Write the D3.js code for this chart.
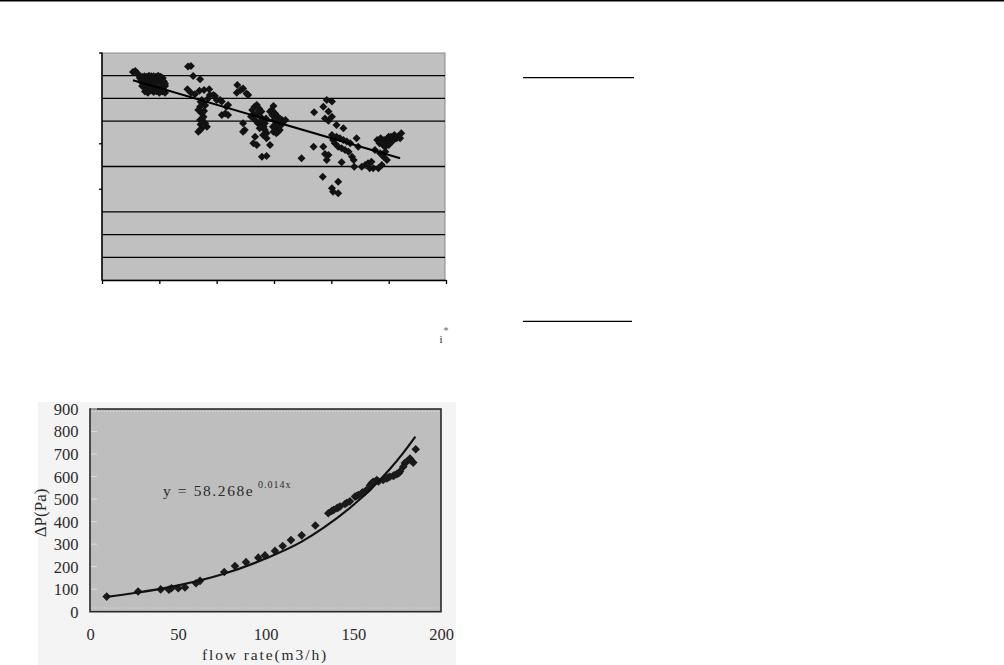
<!DOCTYPE html>
<html>
<head>
<meta charset="utf-8">
<script src="https://cdn.jsdelivr.net/npm/d3@7"></script>
<style>
html,body{margin:0;padding:0;background:#fff;}
svg{display:block;}
text{font-family:"Liberation Serif","DejaVu Serif",serif;}
</style>
</head>
<body>
<svg id="c" width="1004" height="665"></svg>
<script>
// ---------- top chart data (unlabelled axes) ----------
const topXDomain = [0, 6];
const topYDomain = [0, 10];
const topXTicks = [0, 1, 2, 3, 4, 5, 6];
const topGridY = [1, 2, 3, 5, 7, 8, 9];
const topLeftTicks = [4, 6, 10];
const topPoints = [
  [0.54,9.16],[0.58,9.21],[0.61,9.12],[0.64,9.03],[0.66,8.90],[0.70,8.95],[0.74,8.98],[0.78,8.95],[0.82,9.00],[0.86,8.98],
  [0.90,8.98],[0.94,8.95],[0.98,9.00],[1.02,8.95],[1.06,8.90],[0.68,8.75],[0.72,8.80],[0.76,8.70],[0.80,8.78],[0.84,8.72],
  [0.88,8.80],[0.92,8.68],[0.96,8.75],[1.00,8.80],[1.04,8.70],[1.08,8.75],[0.70,8.55],[0.74,8.48],[0.78,8.55],[0.82,8.45],
  [0.86,8.52],[0.90,8.48],[0.94,8.55],[0.98,8.45],[1.02,8.52],[1.06,8.45],[1.10,8.55],[0.75,8.30],[0.80,8.25],[0.85,8.35],
  [0.90,8.28],[0.95,8.32],[1.00,8.25],[1.05,8.30],[1.10,8.25],[0.72,8.65],[1.10,8.65],
  [1.50,9.40],[1.55,9.43],[1.59,8.99],[1.71,8.84],[1.49,8.40],[1.55,8.25],[1.62,8.18],[1.70,8.34],[1.78,8.37],[1.87,8.40],
  [1.94,8.15],[2.00,7.93],[1.74,7.93],[1.71,7.63],[1.74,7.34],[1.77,7.19],[1.68,7.49],[1.71,7.05],[1.80,6.90],[1.83,6.75],
  [1.74,6.68],[1.68,6.53],[1.71,6.61],[1.85,8.00],[1.88,8.15],[2.06,7.93],[2.09,7.86],[2.20,7.71],[2.17,7.63],[2.09,7.27],
  [2.20,7.27],[2.15,7.34],[1.97,8.11],[1.76,7.80],[1.80,7.70],[1.72,7.85],[1.78,7.45],[1.75,7.10],[1.72,6.85],
  [2.36,8.59],[2.46,8.44],[2.55,8.15],[2.35,8.25],[2.52,8.22],[2.42,8.37],[2.46,6.90],[2.49,6.61],[2.46,6.53],[2.64,6.02],
  [2.70,5.95],[2.67,6.31],[2.79,5.43],[2.87,5.46],[2.87,6.24],[2.93,5.95],[2.81,6.39],[2.84,6.61],[2.87,6.46],
  [2.62,7.49],[2.66,7.63],[2.70,7.71],[2.74,7.56],[2.78,7.42],[2.64,7.27],[2.70,7.34],[2.76,7.20],[2.80,7.05],[2.67,7.05],
  [2.72,6.90],[2.78,6.82],[2.84,6.90],[2.86,7.12],[2.60,7.20],[2.75,6.68],[2.82,6.75],[2.96,7.49],[2.99,7.66],[2.93,7.42],
  [2.97,7.27],[3.02,7.34],[3.06,7.20],[3.10,7.12],[3.14,7.05],[3.00,7.05],[3.04,6.97],[3.08,6.90],[3.12,6.82],[3.16,6.97],
  [3.20,7.05],[3.02,6.82],[3.06,6.68],[2.98,6.75],[3.10,6.61],[3.04,6.46],[2.99,6.53],[3.07,6.53],
  [3.48,5.36],[3.69,5.87],[3.70,7.39],[3.85,4.55],[3.86,5.87],[3.89,5.55],[3.92,5.29],[3.95,5.51],[4.01,4.04],[4.03,3.89],
  [4.12,4.33],[4.12,3.82],[3.92,7.93],[4.01,7.86],[3.86,7.63],[3.95,7.42],[4.01,7.19],[3.89,7.12],[3.95,7.02],[4.09,6.83],
  [4.21,6.68],[4.01,6.39],[4.03,6.17],[4.09,6.31],[4.15,6.24],[4.21,6.17],[4.27,6.10],[4.33,6.02],[4.06,6.02],[4.12,5.87],
  [4.18,5.80],[4.24,5.73],[4.30,5.65],[4.44,6.24],[4.47,5.87],[4.36,5.43],[4.39,5.29],[4.18,5.19],[4.40,4.99],
  [4.53,4.99],[4.59,5.07],[4.64,5.14],[4.70,5.21],[4.67,4.92],[4.73,4.92],[4.82,4.92],[4.88,5.07],
  [4.76,5.73],[4.85,5.58],[4.91,5.43],[4.97,5.29],[4.94,5.65],
  [4.80,6.17],[4.86,6.24],[4.92,6.17],[4.98,6.24],[5.04,6.31],[5.10,6.39],[5.16,6.31],[5.22,6.46],[4.84,6.02],[4.90,5.95],
  [4.96,6.02],[5.02,6.10],[5.08,6.17],[5.14,6.24],[4.94,5.87],[5.00,5.95],[5.06,6.10],[4.88,6.10],[5.00,6.31],[5.20,6.24]
];
const topTrend = [[0.54, 8.80], [5.20, 5.36]];

// ---------- bottom chart data ----------
const botXDomain = [0, 200];
const botYDomain = [0, 900];
const botXTicks = [0, 50, 100, 150, 200];
const botYTicks = [0, 100, 200, 300, 400, 500, 600, 700, 800, 900];
const botPoints = [
  [9.1,67],[27,90],[39.9,99],[44.6,98],[46,104],[49.9,104],[53.7,108],[60,126],[62.3,137],[76.1,176],
  [82.2,203],[88.5,220],[95.5,240],[99.3,250],[105,270],[109.4,292],[114.1,318],[120.2,339],[128,383],
  [135.4,437],[137.3,447],[138.5,452],[140.2,459],[141,462],[142.1,467],[144.9,478],[146,484],[147.7,490],
  [150.6,511],[151.5,514],[152.5,518],[154.4,526],[155,530],[156.3,533],[157,538],[158.2,545],[159.1,560],
  [160,570],[161,577],[163,585],[164,578],[166.7,585],[168.7,592],[169.5,596],[170.5,599],[172.4,603],
  [173,606],[174.4,611],[175.5,615],[176.2,622],[178.1,644],[179,660],[180,666],[181.9,680],[182.5,672],
  [183.8,662],[185.2,721]
];
const botTrend = [[9,66],[25,83],[50,117],[75,166],[100,237],[120,310],[133,374],[150,476],[160,547],[170,629],[178,704],[185,777]];
const botXLabel = "flow rate(m3/h)";
const botYLabel = "\u0394P(Pa)";
const eqMain = "y = 58.268e";
const eqSup = "0.014x";

const svg = d3.select("#c");
const diamond = r => `M0,${-r}L${r},0L0,${r}L${-r},0Z`;

// page rules
svg.append("line").attr("x1",0).attr("x2",1004).attr("y1",0.8).attr("y2",0.8).attr("stroke","#000").attr("stroke-width",1.6);
svg.append("line").attr("x1",523).attr("x2",634).attr("y1",77.7).attr("y2",77.7).attr("stroke","#000").attr("stroke-width",1.3);
svg.append("line").attr("x1",523).attr("x2",632).attr("y1",321.3).attr("y2",321.3).attr("stroke","#000").attr("stroke-width",1.3);
svg.append("text").attr("x",439.5).attr("y",343).attr("font-size",11).attr("fill","#222").text("i");
svg.append("text").attr("x",443.5).attr("y",334).attr("font-size",10).attr("fill","#666").text("*");

// ---------- top chart ----------
const tx = d3.scaleLinear().domain(topXDomain).range([102, 446]);
const ty = d3.scaleLinear().domain(topYDomain).range([280, 53]);
const tg = svg.append("g");
tg.append("rect").attr("x",102).attr("y",53).attr("width",343).attr("height",227)
  .attr("fill","#c0c0c0").attr("stroke","#8a8a8a").attr("stroke-width",1);
tg.selectAll("line.grid").data(topGridY).join("line").attr("class","grid")
  .attr("x1",102).attr("x2",445).attr("y1",d=>ty(d)).attr("y2",d=>ty(d))
  .attr("stroke","#000").attr("stroke-width",1.3);
tg.append("line").attr("x1",102).attr("x2",102).attr("y1",52.5).attr("y2",280.5).attr("stroke","#000").attr("stroke-width",1.5);
const txAxis = tg.append("g").attr("transform","translate(0,280)")
  .call(d3.axisBottom(tx).tickValues(topXTicks).tickFormat("").tickSize(4).tickSizeOuter(0));
txAxis.select(".domain").attr("stroke","#000").attr("stroke-width",1.5);
txAxis.selectAll(".tick line").attr("stroke","#000").attr("stroke-width",1.3);
tg.selectAll("line.lt").data(topLeftTicks).join("line").attr("class","lt")
  .attr("x1",99).attr("x2",102).attr("y1",d=>ty(d)).attr("y2",d=>ty(d))
  .attr("stroke","#000").attr("stroke-width",1.3);
tg.selectAll("path.pt").data(topPoints).join("path").attr("class","pt")
  .attr("d",diamond(4)).attr("transform",d=>`translate(${tx(d[0])},${ty(d[1])})`)
  .attr("fill","#121212");
tg.append("path").datum(topTrend)
  .attr("d",d3.line().x(d=>tx(d[0])).y(d=>ty(d[1])))
  .attr("fill","none").attr("stroke","#000").attr("stroke-width",2);

// ---------- bottom chart ----------
const bx = d3.scaleLinear().domain(botXDomain).range([90.7, 441.7]);
const by = d3.scaleLinear().domain(botYDomain).range([611.7, 409]);
const bg = svg.append("g");
bg.append("rect").attr("x",38).attr("y",402).attr("width",418).attr("height",263).attr("fill","#f4f4f4");
bg.append("rect").attr("x",90).attr("y",409).attr("width",351).attr("height",202.7)
  .attr("fill","#bebebe").attr("stroke","#2a2a2a").attr("stroke-width",1.6);
bg.selectAll("line.bt").data(botYTicks.slice(1)).join("line").attr("class","bt")
  .attr("x1",91).attr("x2",97).attr("y1",d=>by(d)).attr("y2",d=>by(d))
  .attr("stroke","#dcdcdc").attr("stroke-width",1);
bg.append("line").attr("x1",92).attr("x2",439).attr("y1",411.5).attr("y2",411.5)
  .attr("stroke","#e4e4e4").attr("stroke-width",1).attr("stroke-dasharray","1,2");
bg.append("line").attr("x1",92).attr("x2",439).attr("y1",608).attr("y2",608)
  .attr("stroke","#d8d8d8").attr("stroke-width",1).attr("stroke-dasharray","1,2");

bg.selectAll("text.yl").data(botYTicks).join("text").attr("class","yl")
  .attr("x",78.5).attr("y",d=>by(d)).attr("dy","0.36em").attr("text-anchor","end")
  .attr("font-size",16.5).attr("fill","#2b2b2b").text(d=>d);
bg.selectAll("text.xl").data(botXTicks).join("text").attr("class","xl")
  .attr("x",d=>bx(d)).attr("y",640).attr("text-anchor","middle")
  .attr("font-size",16.5).attr("fill","#2b2b2b").text(d=>d);
bg.append("text").attr("x",265).attr("y",660).attr("text-anchor","middle")
  .attr("font-size",15.5).attr("letter-spacing",1.9).attr("fill","#2b2b2b").text(botXLabel);
bg.append("text").attr("transform","translate(46,513) rotate(-90)").attr("text-anchor","middle")
  .attr("font-size",17).attr("fill","#2b2b2b").text(botYLabel);
bg.append("text").attr("x",163).attr("y",496).attr("font-size",15.5).attr("letter-spacing",1.6)
  .attr("fill","#2b2b2b").text(eqMain);
bg.append("text").attr("x",258).attr("y",487.5).attr("font-size",10).attr("letter-spacing",1)
  .attr("fill","#2b2b2b").text(eqSup);

bg.selectAll("path.bp").data(botPoints).join("path").attr("class","bp")
  .attr("d",diamond(4.3)).attr("transform",d=>`translate(${bx(d[0])},${by(d[1])})`)
  .attr("fill","#1a1a1a");
bg.append("path").datum(botTrend)
  .attr("d",d3.line().x(d=>bx(d[0])).y(d=>by(d[1])).curve(d3.curveMonotoneX))
  .attr("fill","none").attr("stroke","#111").attr("stroke-width",2.2);
</script>
</body>
</html>
